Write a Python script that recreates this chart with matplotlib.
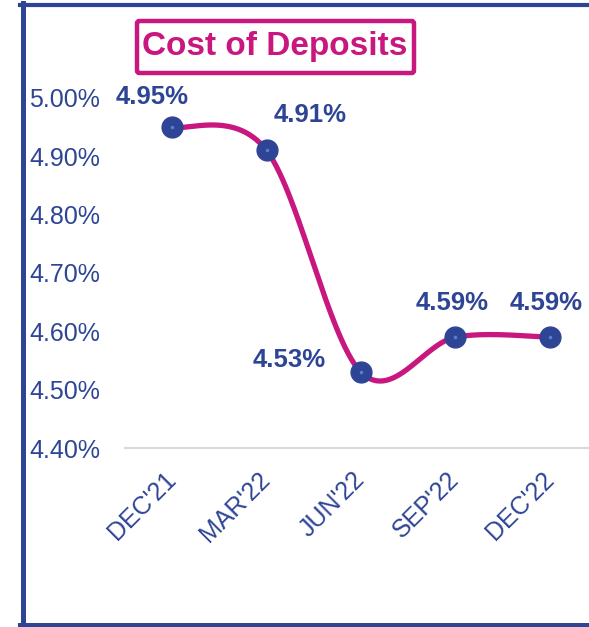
import numpy as np
import matplotlib
matplotlib.use("Agg")
import matplotlib.pyplot as plt
from matplotlib.lines import Line2D
from matplotlib.patches import FancyBboxPatch

plt.rcParams['font.family'] = ['Liberation Sans', 'DejaVu Sans']

categories = ["DEC'21", "MAR'22", "JUN'22", "SEP'22", "DEC'22"]
values = [4.95, 4.91, 4.53, 4.59, 4.59]
value_labels = ["4.95%", "4.91%", "4.53%", "4.59%", "4.59%"]
yticks = [4.40, 4.50, 4.60, 4.70, 4.80, 4.90, 5.00]
label_offsets = [(-20, 30), (44, 35), (-72, 12), (-3, 34), (-4, 34)]  # pixels

NAVY = '#2E4596'
MAGENTA = '#C8187F'

W, H = 589, 627
fig = plt.figure(figsize=(W / 100, H / 100), dpi=100)
ax = fig.add_axes([125 / W, (H - 448) / H, (597 - 125) / W, 350 / H])

x = np.arange(len(values), dtype=float)
y = np.array(values, dtype=float)

# Excel-like smoothed line (Catmull-Rom / Bezier)
def smooth(xs, ys, n=60):
    pts = np.column_stack([xs, ys])
    ext = np.vstack([pts[0], pts, pts[-1]])
    out = []
    t = np.linspace(0, 1, n)[:, None]
    for i in range(len(pts) - 1):
        p0 = ext[i + 1]
        p3 = ext[i + 2]
        c1 = p0 + (ext[i + 2] - ext[i]) / 6
        c2 = p3 - (ext[i + 3] - ext[i + 1]) / 6
        seg = ((1 - t) ** 3) * p0 + 3 * ((1 - t) ** 2) * t * c1 + 3 * (1 - t) * t ** 2 * c2 + t ** 3 * p3
        out.append(seg)
    out = np.vstack(out)
    return out[:, 0], out[:, 1]

sx, sy = smooth(x, y)
ax.plot(sx, sy, color=MAGENTA, lw=3.8, solid_capstyle='round', zorder=3, clip_on=False)
ax.plot(x, y, 'o', ms=15, color=NAVY, zorder=4, clip_on=False)
ax.plot(x, y, 'o', ms=1.5, color='#5A7FD0', zorder=5, clip_on=False)

for xi, yi, lab, (dx, dy) in zip(x, y, value_labels, label_offsets):
    ax.annotate(lab, (xi, yi), xytext=(dx, dy), textcoords='offset pixels',
                ha='center', va='center', fontsize=18.5, fontweight='bold',
                color=NAVY, zorder=6, annotation_clip=False)

ax.set_xlim(-0.5, 4.5)
ax.set_ylim(4.40, 5.00)
ax.set_yticks(yticks)
ax.set_yticklabels([f"{v:.2f}%" for v in yticks], fontsize=18, color=NAVY)
ax.set_xticks(x)
ax.set_xticklabels(categories, fontsize=18, color=NAVY, rotation=45,
                   ha='right', va='center', rotation_mode='anchor')
ax.tick_params(axis='y', length=0, pad=18)
ax.tick_params(axis='x', length=0, pad=20)
for s in ['top', 'right', 'left']:
    ax.spines[s].set_visible(False)
ax.spines['bottom'].set_color('#D9D9D9')
ax.spines['bottom'].set_linewidth(1.5)
ax.set_facecolor('none')

# outer frame (left, top, bottom)
def fx(px):
    return px / W

def fy(py):
    return 1 - py / H

fig.add_artist(Line2D([fx(22.5), fx(22.5)], [fy(3), fy(627)], color=NAVY, lw=3.6, transform=fig.transFigure))
fig.add_artist(Line2D([fx(20), fx(589)], [fy(5), fy(5)], color=NAVY, lw=3.0, transform=fig.transFigure))
fig.add_artist(Line2D([fx(20), fx(589)], [fy(624.5), fy(624.5)], color=NAVY, lw=3.6, transform=fig.transFigure))

# title box
box = FancyBboxPatch((fx(137), fy(73)), fx(414) - fx(137), fy(21) - fy(73),
                     boxstyle='round,pad=0,rounding_size=0.004',
                     transform=fig.transFigure, facecolor='white',
                     edgecolor=MAGENTA, lw=3.2)
fig.add_artist(box)
fig.text(fx(275), fy(47), 'Cost of Deposits', ha='center', va='center',
         fontsize=24, fontweight='bold', color=MAGENTA)

fig.savefig('out.png', dpi=100, facecolor='white')
